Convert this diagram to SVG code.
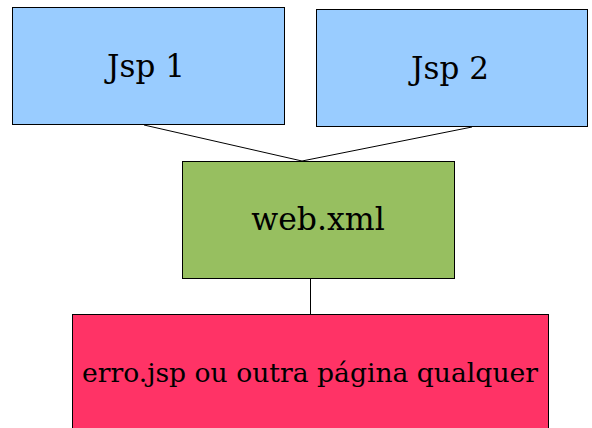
<svg xmlns="http://www.w3.org/2000/svg" width="592" height="428" viewBox="0 0 592 428">
<style>
.box{stroke:#000;stroke-width:1}
.t{font-family:"DejaVu Serif",serif;fill:#000;text-anchor:middle}
.c{stroke:#000;stroke-width:1;fill:none}
</style>
<rect width="592" height="428" fill="#fff"/>
<g id="connectors">
<line class="c" x1="144" y1="125" x2="302" y2="161"/>
<line class="c" x1="472" y1="127" x2="302" y2="161"/>
<line class="c" x1="310.5" y1="279" x2="310.5" y2="316"/>
</g>
<g id="jsp1">
<rect class="box" x="12.5" y="7.5" width="272" height="117" fill="#99ccff"/>
<text class="t" x="146" y="77" font-size="31">Jsp 1</text>
</g>
<g id="jsp2">
<rect class="box" x="316.5" y="9.5" width="271" height="117" fill="#99ccff"/>
<text class="t" x="450" y="79" font-size="31">Jsp 2</text>
</g>
<g id="webxml">
<rect class="box" x="182.5" y="161.5" width="272" height="117" fill="#97bf60"/>
<text class="t" x="318" y="230" font-size="31.5">web.xml</text>
</g>
<g id="erro">
<rect class="box" x="72.5" y="314.5" width="476" height="120" fill="#ff3366"/>
<text class="t" x="310" y="382" font-size="26.6">erro.jsp ou outra página qualquer</text>
</g>
</svg>
